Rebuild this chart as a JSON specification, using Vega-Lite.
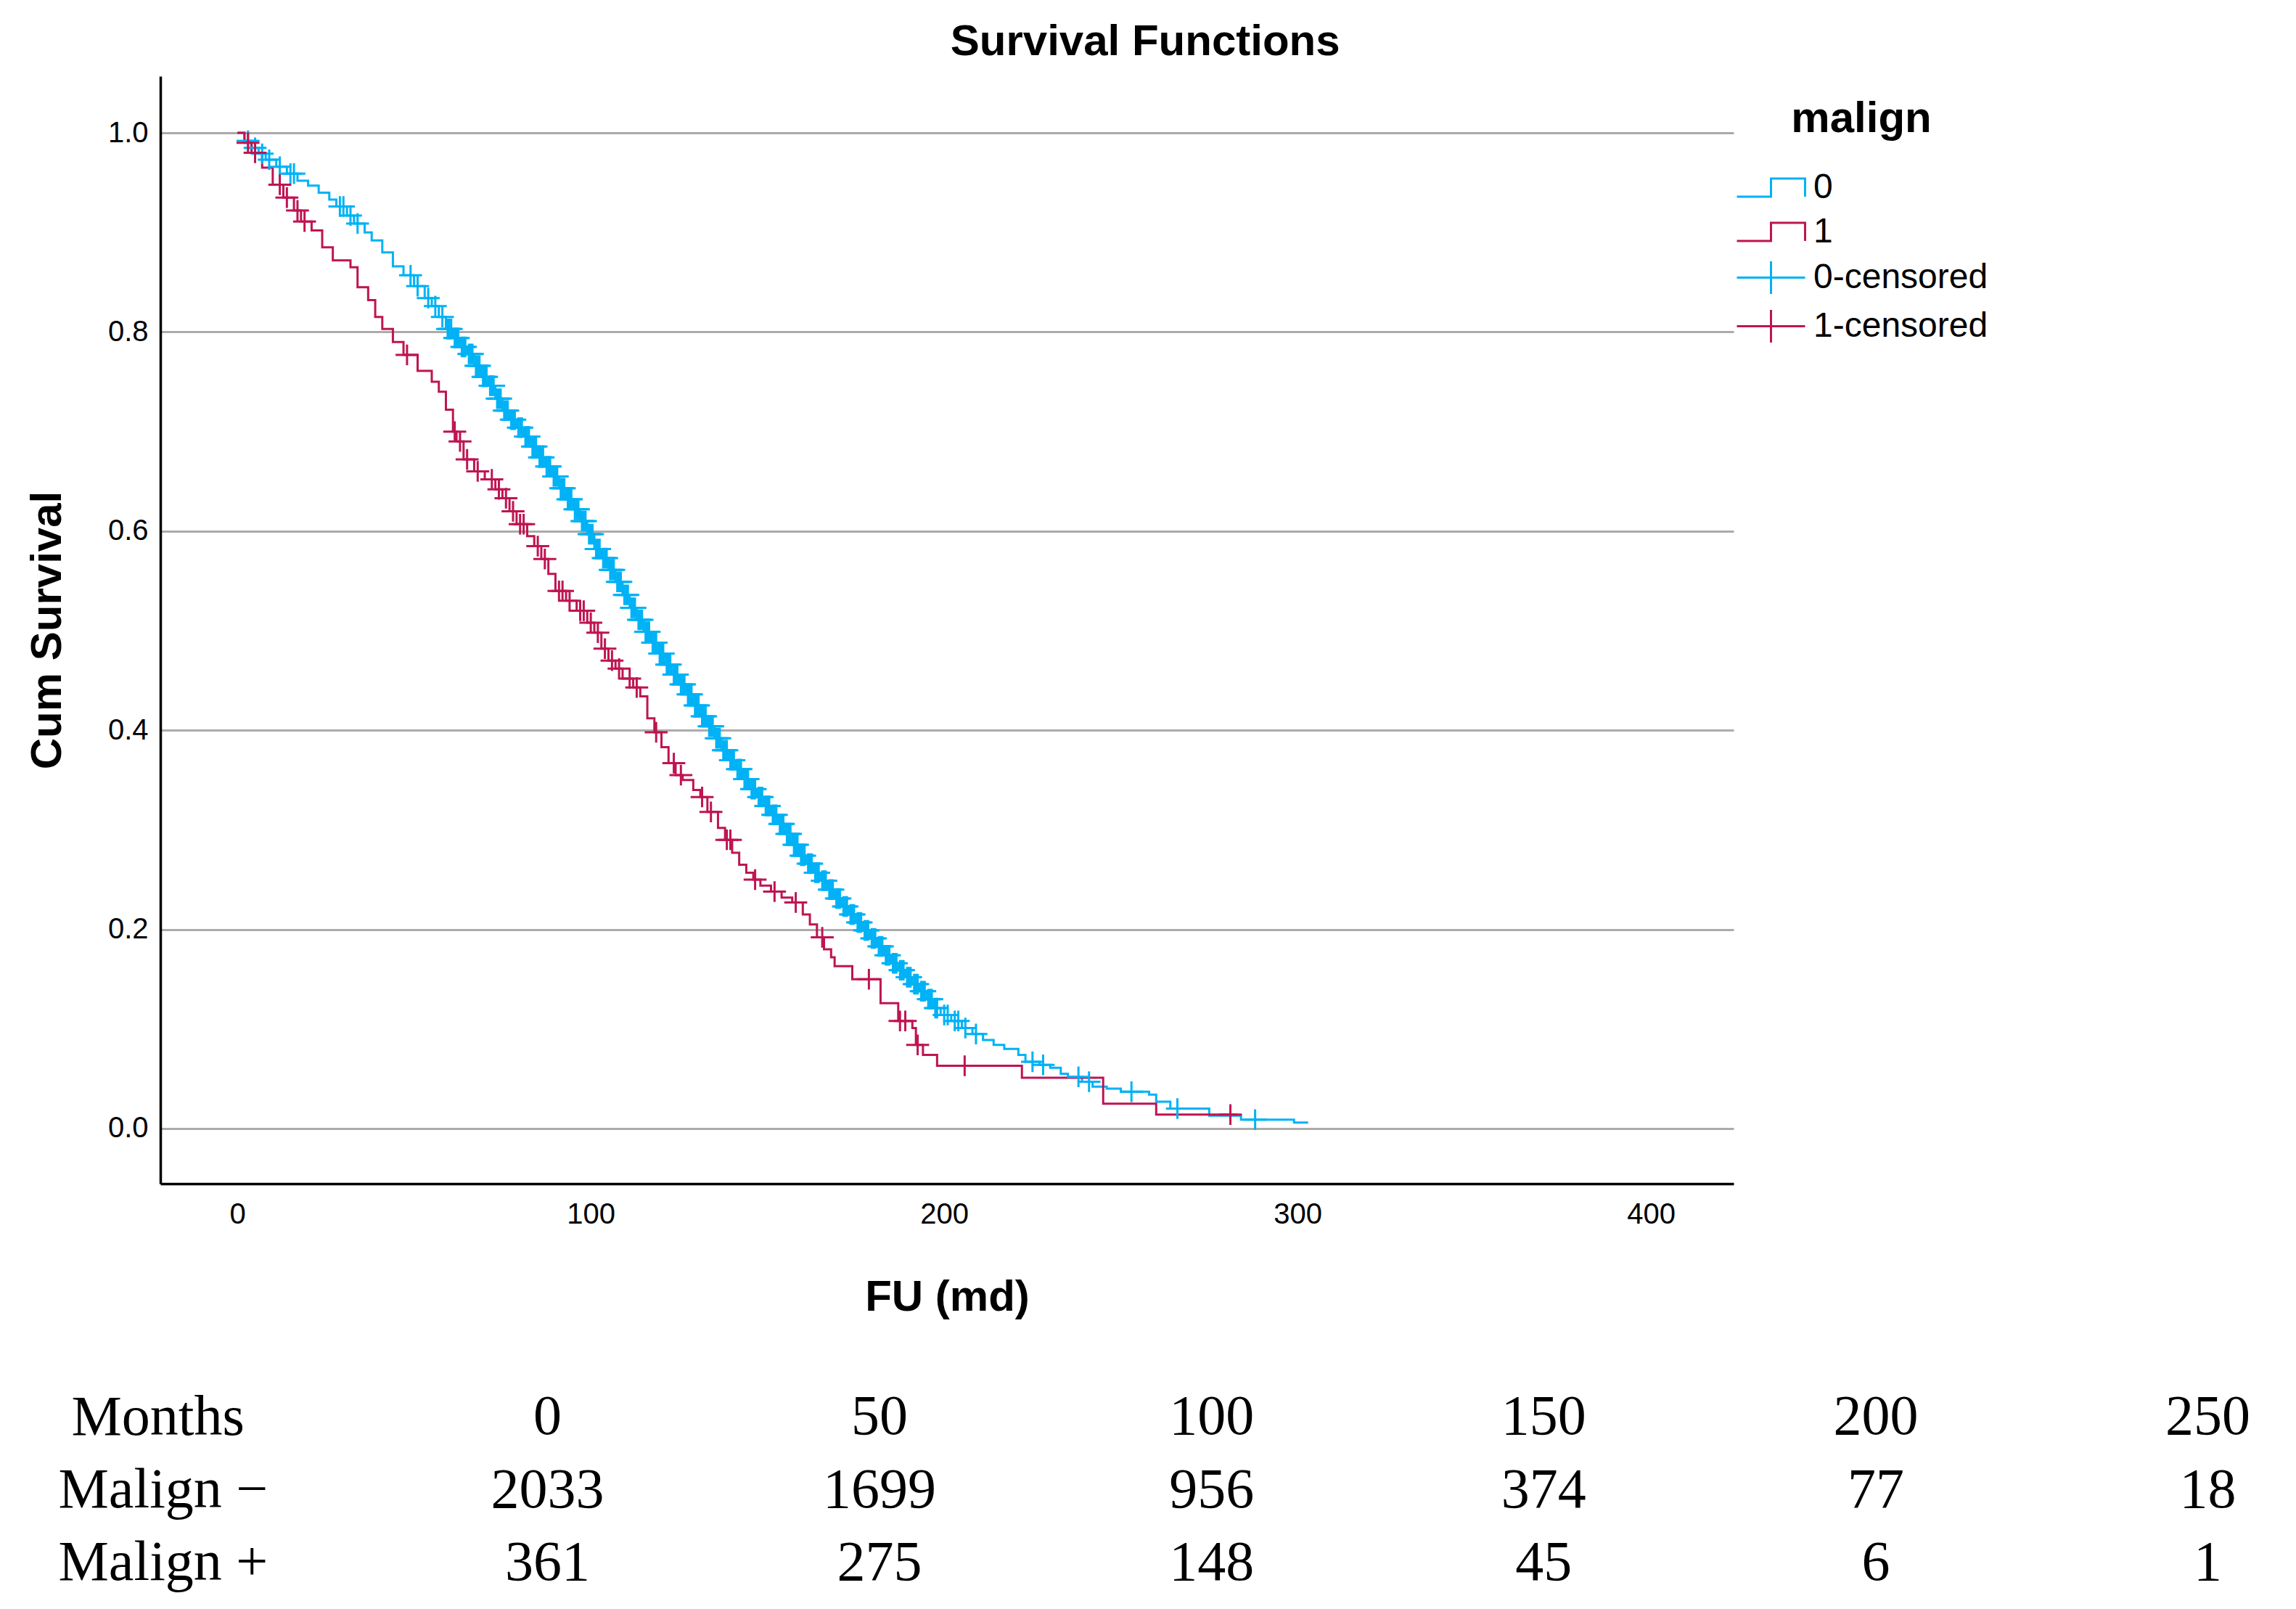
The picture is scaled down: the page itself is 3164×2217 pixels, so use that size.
{
"$schema":"https://vega.github.io/schema/vega-lite/v6.json",
"padding":{"left":35,"top":28,"right":0,"bottom":0},
"config":{"view":{"stroke":null},"font":"Liberation Sans"},
"title":{"text":"Survival Functions","font":"Liberation Sans","fontSize":60,"fontWeight":"bold","color":"black","anchor":"middle","offset":16},
"datasets":{
"steps":[
{"t":0,"S":1.0,"malign":"0"},{"t":2,"S":0.992,"malign":"0"},{"t":4,"S":0.985,"malign":"0"},{"t":6,"S":0.979,"malign":"0"},{"t":8,"S":0.973,"malign":"0"},{"t":11,"S":0.966,"malign":"0"},{"t":14,"S":0.959,"malign":"0"},{"t":17,"S":0.952,"malign":"0"},{"t":20,"S":0.947,"malign":"0"},{"t":23,"S":0.940,"malign":"0"},{"t":26,"S":0.933,"malign":"0"},{"t":28,"S":0.926,"malign":"0"},{"t":31,"S":0.917,"malign":"0"},{"t":33,"S":0.909,"malign":"0"},{"t":36,"S":0.900,"malign":"0"},{"t":38,"S":0.892,"malign":"0"},{"t":41,"S":0.880,"malign":"0"},{"t":44,"S":0.866,"malign":"0"},{"t":47,"S":0.857,"malign":"0"},{"t":50,"S":0.846,"malign":"0"},{"t":53,"S":0.834,"malign":"0"},{"t":55,"S":0.826,"malign":"0"},{"t":57,"S":0.815,"malign":"0"},{"t":59,"S":0.803,"malign":"0"},{"t":61,"S":0.794,"malign":"0"},{"t":63,"S":0.785,"malign":"0"},{"t":65,"S":0.778,"malign":"0"},{"t":67,"S":0.766,"malign":"0"},{"t":69,"S":0.755,"malign":"0"},{"t":71,"S":0.746,"malign":"0"},{"t":73,"S":0.733,"malign":"0"},{"t":75,"S":0.721,"malign":"0"},{"t":77,"S":0.712,"malign":"0"},{"t":79,"S":0.704,"malign":"0"},{"t":81,"S":0.695,"malign":"0"},{"t":83,"S":0.685,"malign":"0"},{"t":85,"S":0.674,"malign":"0"},{"t":87,"S":0.665,"malign":"0"},{"t":89,"S":0.655,"malign":"0"},{"t":91,"S":0.643,"malign":"0"},{"t":93,"S":0.632,"malign":"0"},{"t":95,"S":0.622,"malign":"0"},{"t":97,"S":0.610,"malign":"0"},{"t":99,"S":0.597,"malign":"0"},{"t":101,"S":0.582,"malign":"0"},{"t":103,"S":0.573,"malign":"0"},{"t":105,"S":0.561,"malign":"0"},{"t":107,"S":0.549,"malign":"0"},{"t":109,"S":0.536,"malign":"0"},{"t":111,"S":0.523,"malign":"0"},{"t":113,"S":0.511,"malign":"0"},{"t":115,"S":0.499,"malign":"0"},{"t":117,"S":0.488,"malign":"0"},{"t":119,"S":0.477,"malign":"0"},{"t":121,"S":0.466,"malign":"0"},{"t":123,"S":0.456,"malign":"0"},{"t":125,"S":0.446,"malign":"0"},{"t":127,"S":0.436,"malign":"0"},{"t":129,"S":0.425,"malign":"0"},{"t":131,"S":0.414,"malign":"0"},{"t":133,"S":0.404,"malign":"0"},{"t":135,"S":0.392,"malign":"0"},{"t":137,"S":0.380,"malign":"0"},{"t":139,"S":0.370,"malign":"0"},{"t":141,"S":0.361,"malign":"0"},{"t":143,"S":0.351,"malign":"0"},{"t":145,"S":0.341,"malign":"0"},{"t":147,"S":0.333,"malign":"0"},{"t":149,"S":0.324,"malign":"0"},{"t":151,"S":0.315,"malign":"0"},{"t":153,"S":0.306,"malign":"0"},{"t":155,"S":0.296,"malign":"0"},{"t":157,"S":0.285,"malign":"0"},{"t":159,"S":0.274,"malign":"0"},{"t":161,"S":0.266,"malign":"0"},{"t":163,"S":0.257,"malign":"0"},{"t":165,"S":0.249,"malign":"0"},{"t":167,"S":0.240,"malign":"0"},{"t":169,"S":0.231,"malign":"0"},{"t":171,"S":0.223,"malign":"0"},{"t":173,"S":0.215,"malign":"0"},{"t":175,"S":0.207,"malign":"0"},{"t":177,"S":0.199,"malign":"0"},{"t":179,"S":0.191,"malign":"0"},{"t":181,"S":0.183,"malign":"0"},{"t":183,"S":0.174,"malign":"0"},{"t":185,"S":0.166,"malign":"0"},{"t":187,"S":0.159,"malign":"0"},{"t":189,"S":0.152,"malign":"0"},{"t":191,"S":0.145,"malign":"0"},{"t":193,"S":0.138,"malign":"0"},{"t":195,"S":0.130,"malign":"0"},{"t":197,"S":0.121,"malign":"0"},{"t":199,"S":0.114,"malign":"0"},{"t":202,"S":0.108,"malign":"0"},{"t":205,"S":0.101,"malign":"0"},{"t":208,"S":0.095,"malign":"0"},{"t":211,"S":0.089,"malign":"0"},{"t":214,"S":0.084,"malign":"0"},{"t":217,"S":0.080,"malign":"0"},{"t":221,"S":0.074,"malign":"0"},{"t":223,"S":0.067,"malign":"0"},{"t":227,"S":0.064,"malign":"0"},{"t":230,"S":0.061,"malign":"0"},{"t":233,"S":0.055,"malign":"0"},{"t":235,"S":0.052,"malign":"0"},{"t":239,"S":0.047,"malign":"0"},{"t":242,"S":0.042,"malign":"0"},{"t":246,"S":0.040,"malign":"0"},{"t":250,"S":0.037,"malign":"0"},{"t":258,"S":0.034,"malign":"0"},{"t":260,"S":0.027,"malign":"0"},{"t":264,"S":0.020,"malign":"0"},{"t":275,"S":0.013,"malign":"0"},{"t":284,"S":0.009,"malign":"0"},{"t":299,"S":0.006,"malign":"0"},{"t":303,"S":0.006,"malign":"0"},
{"t":0,"S":1.0,"malign":"1"},{"t":2,"S":0.99,"malign":"1"},{"t":4,"S":0.98,"malign":"1"},{"t":7,"S":0.965,"malign":"1"},{"t":10,"S":0.948,"malign":"1"},{"t":13,"S":0.935,"malign":"1"},{"t":16,"S":0.922,"malign":"1"},{"t":18,"S":0.911,"malign":"1"},{"t":21,"S":0.902,"malign":"1"},{"t":24,"S":0.885,"malign":"1"},{"t":27,"S":0.872,"malign":"1"},{"t":32,"S":0.865,"malign":"1"},{"t":34,"S":0.845,"malign":"1"},{"t":37,"S":0.832,"malign":"1"},{"t":39,"S":0.815,"malign":"1"},{"t":41,"S":0.803,"malign":"1"},{"t":44,"S":0.790,"malign":"1"},{"t":47,"S":0.777,"malign":"1"},{"t":51,"S":0.761,"malign":"1"},{"t":55,"S":0.750,"malign":"1"},{"t":57,"S":0.740,"malign":"1"},{"t":59,"S":0.722,"malign":"1"},{"t":61,"S":0.700,"malign":"1"},{"t":62,"S":0.690,"malign":"1"},{"t":64,"S":0.672,"malign":"1"},{"t":67,"S":0.660,"malign":"1"},{"t":70,"S":0.652,"malign":"1"},{"t":73,"S":0.642,"malign":"1"},{"t":75,"S":0.633,"malign":"1"},{"t":77,"S":0.620,"malign":"1"},{"t":79,"S":0.607,"malign":"1"},{"t":82,"S":0.595,"malign":"1"},{"t":84,"S":0.585,"malign":"1"},{"t":86,"S":0.572,"malign":"1"},{"t":88,"S":0.557,"malign":"1"},{"t":90,"S":0.540,"malign":"1"},{"t":93,"S":0.530,"malign":"1"},{"t":96,"S":0.520,"malign":"1"},{"t":99,"S":0.508,"malign":"1"},{"t":101,"S":0.498,"malign":"1"},{"t":103,"S":0.482,"malign":"1"},{"t":105,"S":0.470,"malign":"1"},{"t":107,"S":0.462,"malign":"1"},{"t":109,"S":0.452,"malign":"1"},{"t":112,"S":0.443,"malign":"1"},{"t":114,"S":0.434,"malign":"1"},{"t":116,"S":0.412,"malign":"1"},{"t":118,"S":0.398,"malign":"1"},{"t":120,"S":0.383,"malign":"1"},{"t":122,"S":0.367,"malign":"1"},{"t":124,"S":0.355,"malign":"1"},{"t":126,"S":0.350,"malign":"1"},{"t":129,"S":0.340,"malign":"1"},{"t":131,"S":0.333,"malign":"1"},{"t":133,"S":0.318,"malign":"1"},{"t":136,"S":0.302,"malign":"1"},{"t":138,"S":0.290,"malign":"1"},{"t":140,"S":0.277,"malign":"1"},{"t":142,"S":0.265,"malign":"1"},{"t":144,"S":0.257,"malign":"1"},{"t":146,"S":0.250,"malign":"1"},{"t":148,"S":0.244,"malign":"1"},{"t":151,"S":0.238,"malign":"1"},{"t":154,"S":0.232,"malign":"1"},{"t":157,"S":0.227,"malign":"1"},{"t":160,"S":0.215,"malign":"1"},{"t":162,"S":0.205,"malign":"1"},{"t":164,"S":0.192,"malign":"1"},{"t":166,"S":0.180,"malign":"1"},{"t":168,"S":0.172,"malign":"1"},{"t":169,"S":0.163,"malign":"1"},{"t":174,"S":0.150,"malign":"1"},{"t":182,"S":0.126,"malign":"1"},{"t":187,"S":0.108,"malign":"1"},{"t":191,"S":0.101,"malign":"1"},{"t":192,"S":0.084,"malign":"1"},{"t":194,"S":0.074,"malign":"1"},{"t":198,"S":0.063,"malign":"1"},{"t":222,"S":0.051,"malign":"1"},{"t":245,"S":0.025,"malign":"1"},{"t":260,"S":0.014,"malign":"1"},{"t":283,"S":0.014,"malign":"1"}
],
"cens":[
{"t":3,"S":0.992,"malign":"0-censored"},{"t":5,"S":0.985,"malign":"0-censored"},{"t":7,"S":0.979,"malign":"0-censored"},{"t":9,"S":0.973,"malign":"0-censored"},{"t":12,"S":0.966,"malign":"0-censored"},{"t":15,"S":0.959,"malign":"0-censored"},{"t":16,"S":0.959,"malign":"0-censored"},{"t":29,"S":0.926,"malign":"0-censored"},{"t":30,"S":0.926,"malign":"0-censored"},{"t":32,"S":0.917,"malign":"0-censored"},{"t":34,"S":0.909,"malign":"0-censored"},{"t":49,"S":0.857,"malign":"0-censored"},{"t":51,"S":0.846,"malign":"0-censored"},{"t":54,"S":0.834,"malign":"0-censored"},{"t":56,"S":0.826,"malign":"0-censored"},{"t":58,"S":0.815,"malign":"0-censored"},
{"t":59.5,"S":0.803,"malign":"0-censored"},{"t":60,"S":0.803,"malign":"0-censored"},{"t":60.5,"S":0.803,"malign":"0-censored"},
{"t":61.5,"S":0.794,"malign":"0-censored"},{"t":62,"S":0.794,"malign":"0-censored"},{"t":62.5,"S":0.794,"malign":"0-censored"},
{"t":63.5,"S":0.785,"malign":"0-censored"},{"t":64,"S":0.785,"malign":"0-censored"},{"t":64.5,"S":0.785,"malign":"0-censored"},
{"t":65.5,"S":0.778,"malign":"0-censored"},{"t":66,"S":0.778,"malign":"0-censored"},{"t":66.5,"S":0.778,"malign":"0-censored"},
{"t":67.5,"S":0.766,"malign":"0-censored"},{"t":68,"S":0.766,"malign":"0-censored"},{"t":68.5,"S":0.766,"malign":"0-censored"},
{"t":69.5,"S":0.755,"malign":"0-censored"},{"t":70,"S":0.755,"malign":"0-censored"},{"t":70.5,"S":0.755,"malign":"0-censored"},
{"t":71.5,"S":0.746,"malign":"0-censored"},{"t":72,"S":0.746,"malign":"0-censored"},{"t":72.5,"S":0.746,"malign":"0-censored"},
{"t":73.5,"S":0.733,"malign":"0-censored"},{"t":74,"S":0.733,"malign":"0-censored"},{"t":74.5,"S":0.733,"malign":"0-censored"},
{"t":75.5,"S":0.721,"malign":"0-censored"},{"t":76,"S":0.721,"malign":"0-censored"},{"t":76.5,"S":0.721,"malign":"0-censored"},
{"t":77.5,"S":0.712,"malign":"0-censored"},{"t":78,"S":0.712,"malign":"0-censored"},{"t":78.5,"S":0.712,"malign":"0-censored"},
{"t":79.5,"S":0.704,"malign":"0-censored"},{"t":80,"S":0.704,"malign":"0-censored"},{"t":80.5,"S":0.704,"malign":"0-censored"},
{"t":81.5,"S":0.695,"malign":"0-censored"},{"t":82,"S":0.695,"malign":"0-censored"},{"t":82.5,"S":0.695,"malign":"0-censored"},
{"t":83.5,"S":0.685,"malign":"0-censored"},{"t":84,"S":0.685,"malign":"0-censored"},{"t":84.5,"S":0.685,"malign":"0-censored"},
{"t":85.5,"S":0.674,"malign":"0-censored"},{"t":86,"S":0.674,"malign":"0-censored"},{"t":86.5,"S":0.674,"malign":"0-censored"},
{"t":87.5,"S":0.665,"malign":"0-censored"},{"t":88,"S":0.665,"malign":"0-censored"},{"t":88.5,"S":0.665,"malign":"0-censored"},
{"t":89.5,"S":0.655,"malign":"0-censored"},{"t":90,"S":0.655,"malign":"0-censored"},{"t":90.5,"S":0.655,"malign":"0-censored"},
{"t":91.5,"S":0.643,"malign":"0-censored"},{"t":92,"S":0.643,"malign":"0-censored"},{"t":92.5,"S":0.643,"malign":"0-censored"},
{"t":93.5,"S":0.632,"malign":"0-censored"},{"t":94,"S":0.632,"malign":"0-censored"},{"t":94.5,"S":0.632,"malign":"0-censored"},
{"t":95.5,"S":0.622,"malign":"0-censored"},{"t":96,"S":0.622,"malign":"0-censored"},{"t":96.5,"S":0.622,"malign":"0-censored"},
{"t":97.5,"S":0.610,"malign":"0-censored"},{"t":98,"S":0.610,"malign":"0-censored"},{"t":98.5,"S":0.610,"malign":"0-censored"},
{"t":99.5,"S":0.597,"malign":"0-censored"},{"t":100,"S":0.597,"malign":"0-censored"},{"t":100.5,"S":0.597,"malign":"0-censored"},
{"t":101.5,"S":0.582,"malign":"0-censored"},{"t":102,"S":0.582,"malign":"0-censored"},{"t":102.5,"S":0.582,"malign":"0-censored"},
{"t":103.5,"S":0.573,"malign":"0-censored"},{"t":104,"S":0.573,"malign":"0-censored"},{"t":104.5,"S":0.573,"malign":"0-censored"},
{"t":105.5,"S":0.561,"malign":"0-censored"},{"t":106,"S":0.561,"malign":"0-censored"},{"t":106.5,"S":0.561,"malign":"0-censored"},
{"t":107.5,"S":0.549,"malign":"0-censored"},{"t":108,"S":0.549,"malign":"0-censored"},{"t":108.5,"S":0.549,"malign":"0-censored"},
{"t":109.5,"S":0.536,"malign":"0-censored"},{"t":110,"S":0.536,"malign":"0-censored"},{"t":110.5,"S":0.536,"malign":"0-censored"},
{"t":111.5,"S":0.523,"malign":"0-censored"},{"t":112,"S":0.523,"malign":"0-censored"},{"t":112.5,"S":0.523,"malign":"0-censored"},
{"t":113.5,"S":0.511,"malign":"0-censored"},{"t":114,"S":0.511,"malign":"0-censored"},{"t":114.5,"S":0.511,"malign":"0-censored"},
{"t":115.5,"S":0.499,"malign":"0-censored"},{"t":116,"S":0.499,"malign":"0-censored"},{"t":116.5,"S":0.499,"malign":"0-censored"},
{"t":117.5,"S":0.488,"malign":"0-censored"},{"t":118,"S":0.488,"malign":"0-censored"},{"t":118.5,"S":0.488,"malign":"0-censored"},
{"t":119.5,"S":0.477,"malign":"0-censored"},{"t":120,"S":0.477,"malign":"0-censored"},{"t":120.5,"S":0.477,"malign":"0-censored"},
{"t":121.5,"S":0.466,"malign":"0-censored"},{"t":122,"S":0.466,"malign":"0-censored"},{"t":122.5,"S":0.466,"malign":"0-censored"},
{"t":123.5,"S":0.456,"malign":"0-censored"},{"t":124,"S":0.456,"malign":"0-censored"},{"t":124.5,"S":0.456,"malign":"0-censored"},
{"t":125.5,"S":0.446,"malign":"0-censored"},{"t":126,"S":0.446,"malign":"0-censored"},{"t":126.5,"S":0.446,"malign":"0-censored"},
{"t":127.5,"S":0.436,"malign":"0-censored"},{"t":128,"S":0.436,"malign":"0-censored"},{"t":128.5,"S":0.436,"malign":"0-censored"},
{"t":129.5,"S":0.425,"malign":"0-censored"},{"t":130,"S":0.425,"malign":"0-censored"},{"t":130.5,"S":0.425,"malign":"0-censored"},
{"t":131.5,"S":0.414,"malign":"0-censored"},{"t":132,"S":0.414,"malign":"0-censored"},{"t":132.5,"S":0.414,"malign":"0-censored"},
{"t":133.5,"S":0.404,"malign":"0-censored"},{"t":134,"S":0.404,"malign":"0-censored"},{"t":134.5,"S":0.404,"malign":"0-censored"},
{"t":135.5,"S":0.392,"malign":"0-censored"},{"t":136,"S":0.392,"malign":"0-censored"},{"t":136.5,"S":0.392,"malign":"0-censored"},
{"t":137.5,"S":0.380,"malign":"0-censored"},{"t":138,"S":0.380,"malign":"0-censored"},{"t":138.5,"S":0.380,"malign":"0-censored"},
{"t":139.5,"S":0.370,"malign":"0-censored"},{"t":140,"S":0.370,"malign":"0-censored"},{"t":140.5,"S":0.370,"malign":"0-censored"},
{"t":141.5,"S":0.361,"malign":"0-censored"},{"t":142,"S":0.361,"malign":"0-censored"},{"t":142.5,"S":0.361,"malign":"0-censored"},
{"t":143.5,"S":0.351,"malign":"0-censored"},{"t":144,"S":0.351,"malign":"0-censored"},{"t":144.5,"S":0.351,"malign":"0-censored"},
{"t":145.5,"S":0.341,"malign":"0-censored"},{"t":146,"S":0.341,"malign":"0-censored"},{"t":146.5,"S":0.341,"malign":"0-censored"},
{"t":147.5,"S":0.333,"malign":"0-censored"},{"t":148,"S":0.333,"malign":"0-censored"},{"t":148.5,"S":0.333,"malign":"0-censored"},
{"t":149.5,"S":0.324,"malign":"0-censored"},{"t":150,"S":0.324,"malign":"0-censored"},{"t":150.5,"S":0.324,"malign":"0-censored"},
{"t":151.5,"S":0.315,"malign":"0-censored"},{"t":152,"S":0.315,"malign":"0-censored"},{"t":152.5,"S":0.315,"malign":"0-censored"},
{"t":153.5,"S":0.306,"malign":"0-censored"},{"t":154,"S":0.306,"malign":"0-censored"},{"t":154.5,"S":0.306,"malign":"0-censored"},
{"t":155.5,"S":0.296,"malign":"0-censored"},{"t":156,"S":0.296,"malign":"0-censored"},{"t":156.5,"S":0.296,"malign":"0-censored"},
{"t":157.5,"S":0.285,"malign":"0-censored"},{"t":158,"S":0.285,"malign":"0-censored"},{"t":158.5,"S":0.285,"malign":"0-censored"},
{"t":159.5,"S":0.274,"malign":"0-censored"},{"t":160,"S":0.274,"malign":"0-censored"},{"t":160.5,"S":0.274,"malign":"0-censored"},
{"t":161.5,"S":0.266,"malign":"0-censored"},{"t":162,"S":0.266,"malign":"0-censored"},{"t":162.5,"S":0.266,"malign":"0-censored"},
{"t":163.5,"S":0.257,"malign":"0-censored"},{"t":164,"S":0.257,"malign":"0-censored"},{"t":164.5,"S":0.257,"malign":"0-censored"},
{"t":165.5,"S":0.249,"malign":"0-censored"},{"t":166,"S":0.249,"malign":"0-censored"},{"t":166.5,"S":0.249,"malign":"0-censored"},
{"t":167.5,"S":0.240,"malign":"0-censored"},{"t":168,"S":0.240,"malign":"0-censored"},{"t":168.5,"S":0.240,"malign":"0-censored"},
{"t":169.5,"S":0.231,"malign":"0-censored"},{"t":170,"S":0.231,"malign":"0-censored"},{"t":170.5,"S":0.231,"malign":"0-censored"},
{"t":171.5,"S":0.223,"malign":"0-censored"},{"t":172,"S":0.223,"malign":"0-censored"},{"t":172.5,"S":0.223,"malign":"0-censored"},
{"t":173.5,"S":0.215,"malign":"0-censored"},{"t":174,"S":0.215,"malign":"0-censored"},{"t":174.5,"S":0.215,"malign":"0-censored"},
{"t":175.5,"S":0.207,"malign":"0-censored"},{"t":176,"S":0.207,"malign":"0-censored"},{"t":176.5,"S":0.207,"malign":"0-censored"},
{"t":177.5,"S":0.199,"malign":"0-censored"},{"t":178,"S":0.199,"malign":"0-censored"},{"t":178.5,"S":0.199,"malign":"0-censored"},
{"t":179.5,"S":0.191,"malign":"0-censored"},{"t":180,"S":0.191,"malign":"0-censored"},{"t":180.5,"S":0.191,"malign":"0-censored"},
{"t":181.5,"S":0.183,"malign":"0-censored"},{"t":182,"S":0.183,"malign":"0-censored"},{"t":182.5,"S":0.183,"malign":"0-censored"},
{"t":183.5,"S":0.174,"malign":"0-censored"},{"t":184,"S":0.174,"malign":"0-censored"},{"t":184.5,"S":0.174,"malign":"0-censored"},
{"t":185.5,"S":0.166,"malign":"0-censored"},{"t":186,"S":0.166,"malign":"0-censored"},{"t":186.5,"S":0.166,"malign":"0-censored"},
{"t":187.5,"S":0.159,"malign":"0-censored"},{"t":188,"S":0.159,"malign":"0-censored"},{"t":188.5,"S":0.159,"malign":"0-censored"},
{"t":189.5,"S":0.152,"malign":"0-censored"},{"t":190,"S":0.152,"malign":"0-censored"},{"t":190.5,"S":0.152,"malign":"0-censored"},
{"t":191.5,"S":0.145,"malign":"0-censored"},{"t":192,"S":0.145,"malign":"0-censored"},{"t":192.5,"S":0.145,"malign":"0-censored"},
{"t":193.5,"S":0.138,"malign":"0-censored"},{"t":194,"S":0.138,"malign":"0-censored"},{"t":194.5,"S":0.138,"malign":"0-censored"},
{"t":195.5,"S":0.130,"malign":"0-censored"},{"t":196,"S":0.130,"malign":"0-censored"},{"t":196.5,"S":0.130,"malign":"0-censored"},
{"t":197.5,"S":0.121,"malign":"0-censored"},{"t":198,"S":0.121,"malign":"0-censored"},
{"t":200,"S":0.114,"malign":"0-censored"},{"t":201,"S":0.114,"malign":"0-censored"},{"t":203,"S":0.108,"malign":"0-censored"},{"t":204,"S":0.108,"malign":"0-censored"},{"t":206,"S":0.101,"malign":"0-censored"},{"t":209,"S":0.095,"malign":"0-censored"},{"t":225,"S":0.067,"malign":"0-censored"},{"t":228,"S":0.064,"malign":"0-censored"},{"t":238,"S":0.052,"malign":"0-censored"},{"t":241,"S":0.047,"malign":"0-censored"},{"t":253,"S":0.037,"malign":"0-censored"},{"t":266,"S":0.020,"malign":"0-censored"},{"t":288,"S":0.009,"malign":"0-censored"},
{"t":3,"S":0.99,"malign":"1-censored"},{"t":5,"S":0.98,"malign":"1-censored"},{"t":12,"S":0.948,"malign":"1-censored"},{"t":14,"S":0.935,"malign":"1-censored"},{"t":17,"S":0.922,"malign":"1-censored"},{"t":19,"S":0.911,"malign":"1-censored"},{"t":48,"S":0.777,"malign":"1-censored"},{"t":61.5,"S":0.700,"malign":"1-censored"},{"t":63,"S":0.690,"malign":"1-censored"},{"t":65,"S":0.672,"malign":"1-censored"},{"t":68,"S":0.660,"malign":"1-censored"},{"t":72,"S":0.652,"malign":"1-censored"},{"t":74,"S":0.642,"malign":"1-censored"},{"t":76,"S":0.633,"malign":"1-censored"},{"t":78,"S":0.620,"malign":"1-censored"},{"t":80,"S":0.607,"malign":"1-censored"},{"t":81,"S":0.607,"malign":"1-censored"},{"t":85,"S":0.585,"malign":"1-censored"},{"t":87,"S":0.572,"malign":"1-censored"},{"t":91,"S":0.540,"malign":"1-censored"},{"t":92,"S":0.540,"malign":"1-censored"},{"t":94,"S":0.530,"malign":"1-censored"},{"t":97,"S":0.520,"malign":"1-censored"},{"t":98,"S":0.520,"malign":"1-censored"},{"t":100,"S":0.508,"malign":"1-censored"},{"t":102,"S":0.498,"malign":"1-censored"},{"t":104,"S":0.482,"malign":"1-censored"},{"t":106,"S":0.470,"malign":"1-censored"},{"t":108,"S":0.462,"malign":"1-censored"},{"t":111,"S":0.452,"malign":"1-censored"},{"t":113,"S":0.443,"malign":"1-censored"},{"t":118.5,"S":0.398,"malign":"1-censored"},{"t":123.5,"S":0.367,"malign":"1-censored"},{"t":125.5,"S":0.355,"malign":"1-censored"},{"t":131.5,"S":0.333,"malign":"1-censored"},{"t":134,"S":0.318,"malign":"1-censored"},{"t":138.5,"S":0.290,"malign":"1-censored"},{"t":139.5,"S":0.290,"malign":"1-censored"},{"t":146.5,"S":0.250,"malign":"1-censored"},{"t":152,"S":0.238,"malign":"1-censored"},{"t":158,"S":0.227,"malign":"1-censored"},{"t":165.5,"S":0.192,"malign":"1-censored"},{"t":178.7,"S":0.150,"malign":"1-censored"},{"t":187.5,"S":0.108,"malign":"1-censored"},{"t":189,"S":0.108,"malign":"1-censored"},{"t":192.5,"S":0.084,"malign":"1-censored"},{"t":205.8,"S":0.063,"malign":"1-censored"},{"t":281,"S":0.014,"malign":"1-censored"}
],
"table":[
{"row":"Months","month":0,"value":"0"},{"row":"Months","month":50,"value":"50"},{"row":"Months","month":100,"value":"100"},{"row":"Months","month":150,"value":"150"},{"row":"Months","month":200,"value":"200"},{"row":"Months","month":250,"value":"250"},
{"row":"Malign −","month":0,"value":"2033"},{"row":"Malign −","month":50,"value":"1699"},{"row":"Malign −","month":100,"value":"956"},{"row":"Malign −","month":150,"value":"374"},{"row":"Malign −","month":200,"value":"77"},{"row":"Malign −","month":250,"value":"18"},
{"row":"Malign +","month":0,"value":"361"},{"row":"Malign +","month":50,"value":"275"},{"row":"Malign +","month":100,"value":"148"},{"row":"Malign +","month":150,"value":"45"},{"row":"Malign +","month":200,"value":"6"},{"row":"Malign +","month":250,"value":"1"}
]
},
"vconcat":[
{
"width":2168,"height":1526,
"encoding":{
"x":{"field":"t","type":"quantitative","scale":{"domain":[-21.8,423.4],"nice":false,"zero":false},
"axis":{"title":"FU (md)","values":[0,100,200,300,400],"ticks":false,"grid":false,"domainColor":"black","domainWidth":3.5,"labelFont":"Liberation Sans","labelFontSize":40,"labelColor":"black","labelPadding":22,"titleFont":"Liberation Sans","titleFontSize":60,"titleFontWeight":"bold","titleColor":"black","titlePadding":65}},
"y":{"field":"S","type":"quantitative","scale":{"domain":[-0.0554,1.0569],"nice":false,"zero":false},
"axis":{"title":"Cum Survival","values":[0,0.2,0.4,0.6,0.8,1.0],"format":".1f","ticks":false,"grid":true,"gridColor":"#ABABAB","gridWidth":3,"domainColor":"black","domainWidth":3.5,"labelFont":"Liberation Sans","labelFontSize":40,"labelColor":"black","labelPadding":17,"titleFont":"Liberation Sans","titleFontSize":60,"titleFontWeight":"bold","titleColor":"black","titlePadding":52}}
},
"layer":[
{"data":{"name":"steps"},
"mark":{"type":"line","interpolate":"step-after","strokeWidth":3},
"encoding":{"color":{"field":"malign","type":"nominal",
"scale":{"domain":["0","1","0-censored","1-censored"],"range":["#00B2F5","#BE1552","#00B2F5","#BE1552"]},
"legend":{"title":"malign","orient":"none","legendX":2193,"legendY":30,"padding":0,"titleFont":"Liberation Sans","titleFontSize":60,"titleFontWeight":"bold","titleColor":"black","titleAnchor":"middle","titleLimit":1000,"titlePadding":37,"labelFont":"Liberation Sans","labelFontSize":48,"labelColor":"black","labelOffset":32,"labelLimit":1000,"symbolSize":2500,"symbolStrokeWidth":3,"rowPadding":10,
"encode":{"title":{"update":{"dx":{"value":-12}}},"symbols":{"update":{"shape":{"signal":"(datum.value === '0' || datum.value === '1') ? 'M-1.88,0.5H0V-0.5H1.88V0.5' : 'M-1.88,0H1.88M0,-0.9V0.9'"},"size":{"value":2500},"strokeWidth":{"value":3},"fill":{"value":"transparent"},"stroke":{"scale":"color","field":"value"},"opacity":{"value":1}}}}}}}
},
{"data":{"name":"cens"},
"mark":{"type":"point","shape":"M-1,0H1M0,-0.9V0.9","size":1000,"filled":false,"strokeWidth":3,"opacity":1},
"encoding":{"color":{"field":"malign","type":"nominal"}}
}
]
},
{
"width":2900,"height":301,
"data":{"name":"table"},
"mark":{"type":"text","font":"Liberation Serif","fontSize":78,"align":"center","baseline":"middle","color":"black"},
"encoding":{
"x":{"field":"month","type":"quantitative","scale":{"domain":[-58.28,258.57],"nice":false,"zero":false},"axis":null},
"y":{"field":"row","type":"nominal","scale":{"type":"point","domain":["Months","Malign −","Malign +"],"padding":0.5},
"axis":{"title":null,"domain":false,"ticks":false,"grid":false,"labelFont":"Liberation Serif","labelFontSize":78,"labelColor":"black","labelAlign":"left","labelBaseline":"middle","labelPadding":{"condition":{"test":"datum.label === 'Months'","value":123},"value":141},"labelLimit":0}},
"text":{"field":"value","type":"nominal"}
}
}
],
"spacing":86
}
